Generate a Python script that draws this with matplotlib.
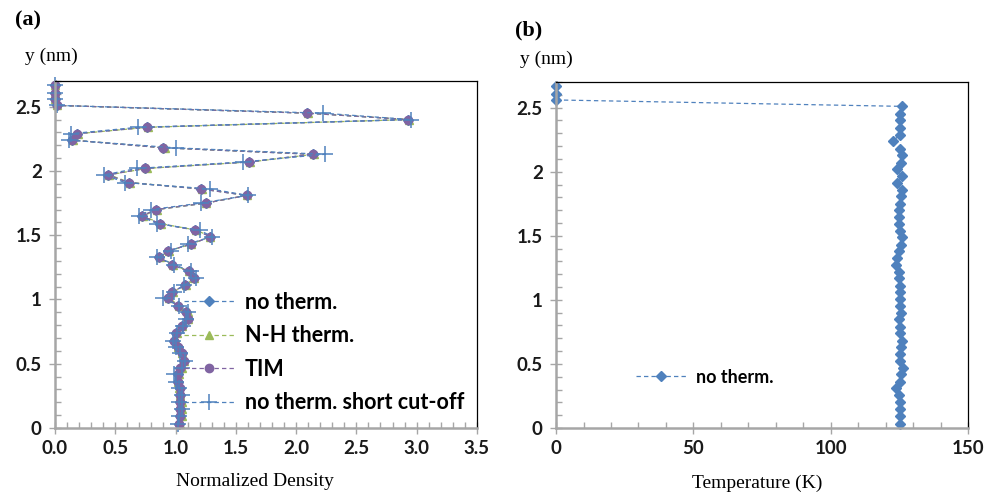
import numpy as np
import matplotlib
matplotlib.use("Agg")
import matplotlib.pyplot as plt
from matplotlib.ticker import MultipleLocator, FormatStrFormatter

# depth positions (nm), bottom -> top
y_nm = [0.03, 0.09, 0.15, 0.20, 0.26, 0.31, 0.36, 0.42, 0.47, 0.52,
        0.58, 0.63, 0.68, 0.74, 0.79, 0.85, 0.90, 0.95, 1.01, 1.06,
        1.11, 1.17, 1.22, 1.27, 1.33, 1.38, 1.43, 1.49, 1.54, 1.59,
        1.65, 1.70, 1.75, 1.81, 1.86, 1.91, 1.97, 2.02, 2.07, 2.13,
        2.18, 2.24, 2.29, 2.34, 2.40, 2.45, 2.51, 2.56, 2.61, 2.67]

# normalized density, panel (a)
dens_no_therm = [1.03, 1.04, 1.04, 1.04, 1.04, 1.04, 1.02, 1.02, 1.04, 1.07,
                 1.05, 1.02, 0.99, 1.00, 1.05, 1.10, 1.09, 1.02, 0.94, 0.97,
                 1.08, 1.15, 1.11, 0.97, 0.86, 0.94, 1.13, 1.29, 1.16, 0.87,
                 0.72, 0.84, 1.25, 1.59, 1.21, 0.61, 0.44, 0.75, 1.61, 2.14,
                 0.90, 0.14, 0.18, 0.76, 2.93, 2.09, 0.02, 0.00, 0.00, 0.00]
dens_nh = [1.04, 1.05, 1.05, 1.05, 1.04, 1.03, 1.02, 1.03, 1.05, 1.07,
           1.05, 1.02, 1.00, 1.01, 1.05, 1.10, 1.10, 1.03, 0.95, 0.98,
           1.09, 1.15, 1.11, 0.98, 0.87, 0.95, 1.13, 1.29, 1.17, 0.88,
           0.73, 0.85, 1.25, 1.59, 1.22, 0.62, 0.45, 0.76, 1.62, 2.15,
           0.91, 0.15, 0.19, 0.77, 2.94, 2.10, 0.02, 0.00, 0.00, 0.00]
dens_tim = [1.03, 1.04, 1.04, 1.04, 1.04, 1.04, 1.02, 1.02, 1.04, 1.07,
            1.05, 1.02, 0.99, 1.00, 1.05, 1.10, 1.09, 1.02, 0.94, 0.97,
            1.08, 1.15, 1.11, 0.97, 0.86, 0.94, 1.13, 1.29, 1.16, 0.87,
            0.72, 0.84, 1.25, 1.59, 1.21, 0.61, 0.44, 0.75, 1.61, 2.14,
            0.90, 0.14, 0.18, 0.76, 2.93, 2.09, 0.02, 0.00, 0.00, 0.00]
dens_short = [1.02, 1.03, 1.05, 1.03, 1.05, 1.03, 1.00, 0.99, 1.05, 1.08,
              1.04, 1.00, 0.98, 1.01, 1.06, 1.09, 1.10, 1.03, 0.90, 0.99,
              1.07, 1.17, 1.13, 0.99, 0.85, 0.96, 1.10, 1.30, 1.20, 0.85,
              0.70, 0.80, 1.21, 1.60, 1.29, 0.58, 0.41, 0.68, 1.56, 2.24,
              1.00, 0.12, 0.13, 0.69, 2.95, 2.22, 0.02, 0.00, 0.00, 0.00]

# temperature (K), panel (b)
temp_no_therm = [125.4, 125.2, 125.2, 125.2, 124.7, 123.8, 125.2, 125.6, 126.2, 125.4,
                 125.2, 125.6, 125.8, 125.4, 125.2, 125.0, 125.6, 125.4, 125.2, 125.4,
                 125.2, 125.0, 125.0, 123.8, 124.2, 124.9, 125.6, 126.0, 125.4, 125.0,
                 124.9, 125.0, 125.2, 125.6, 125.8, 124.2, 125.8, 124.0, 125.6, 125.8,
                 125.4, 122.8, 125.2, 125.4, 125.4, 125.2, 125.8, 0.0, 0.0, 0.0]

blue = '#4F81BD'
green = '#9BBB59'
purple = '#8064A2'
grey = '#A6A6A6'
tick_font = ['Lato', 'DejaVu Sans']
serif = ['Liberation Serif', 'DejaVu Serif']

fig = plt.figure(figsize=(9.85, 4.94), dpi=100)
ax1 = fig.add_axes([0.0558, 0.1336, 0.4284, 0.7024])
ax2 = fig.add_axes([0.5645, 0.1336, 0.4183, 0.7004])

dash = (0, (3.5, 2.5))
ax1.plot(dens_no_therm, y_nm, linestyle=dash, lw=0.9, color=blue,
         marker='D', ms=5, mec=blue, label='no therm.', clip_on=False)
ax1.plot(dens_nh, y_nm, linestyle=dash, lw=0.9, color=green,
         marker='^', ms=5.5, mec=green, label='N-H therm.', clip_on=False)
ax1.plot(dens_tim, y_nm, linestyle=dash, lw=0.9, color=purple,
         marker='o', ms=6, mec=purple, label='TIM', clip_on=False)
ax1.plot(dens_short, y_nm, linestyle=dash, lw=0.9, color=blue,
         marker='+', ms=11, mew=1.1, label='no therm. short cut-off', clip_on=False)

ax2.plot(temp_no_therm, y_nm, linestyle=dash, lw=0.9, color=blue,
         marker='D', ms=5, mec=blue, label='no therm.', clip_on=False)

def style(ax, xmax, xmaj, xmin, fmt):
    ax.set_xlim(0, xmax)
    ax.set_ylim(0, 2.7)
    ax.xaxis.set_major_locator(MultipleLocator(xmaj))
    ax.xaxis.set_minor_locator(MultipleLocator(xmin))
    ax.yaxis.set_major_locator(MultipleLocator(0.5))
    ax.yaxis.set_minor_locator(MultipleLocator(0.1))
    ax.xaxis.set_major_formatter(FormatStrFormatter(fmt))
    ax.yaxis.set_major_formatter(FormatStrFormatter('%g'))
    for s in ['left', 'bottom']:
        ax.spines[s].set_color(grey)
        ax.spines[s].set_linewidth(1.8)
    for s in ['top', 'right']:
        ax.spines[s].set_color('black')
        ax.spines[s].set_linewidth(0.9)
    ax.tick_params(which='major', direction='inout', length=9, width=1,
                   color=grey, pad=4)
    ax.tick_params(which='minor', direction='in', length=4, width=1,
                   color=grey)
    ax.tick_params(axis='y', pad=5)
    for lab in ax.get_xticklabels() + ax.get_yticklabels():
        lab.set_family(tick_font)
        lab.set_fontweight('bold')
        lab.set_fontsize(13.5)
        lab.set_color('#1a1a1a')

style(ax1, 3.5, 0.5, 0.1, '%.1f')
style(ax2, 150, 50, 10, '%g')

leg1 = ax1.legend(loc='lower right', bbox_to_anchor=(1.0, 0.005), frameon=False,
                  prop={'family': tick_font, 'weight': 'bold', 'size': 15.5},
                  handlelength=2.3, handletextpad=0.5,
                  labelspacing=0.58, borderaxespad=0.2)
leg2 = ax2.legend(loc='lower left', bbox_to_anchor=(0.155, 0.075), frameon=False,
                  prop={'family': tick_font, 'weight': 'bold', 'size': 13},
                  handlelength=2.8, handletextpad=0.5)

fig.text(15 / 985, 1 - 10 / 494, '(a)', family=serif, weight='bold', fontsize=16, va='top')
fig.text(25 / 985, 1 - 48 / 494, 'y (nm)', family=serif, fontsize=14, va='top')
fig.text(515 / 985, 1 - 20 / 494, '(b)', family=serif, weight='bold', fontsize=16, va='top')
fig.text(520 / 985, 1 - 51 / 494, 'y (nm)', family=serif, fontsize=14, va='top')
fig.text(255 / 985, 1 - 473 / 494, 'Normalized Density', family=serif, fontsize=14,
         va='top', ha='center')
fig.text(757 / 985, 1 - 475 / 494, 'Temperature (K)', family=serif, fontsize=14,
         va='top', ha='center')

fig.savefig('out.png', dpi=100)
